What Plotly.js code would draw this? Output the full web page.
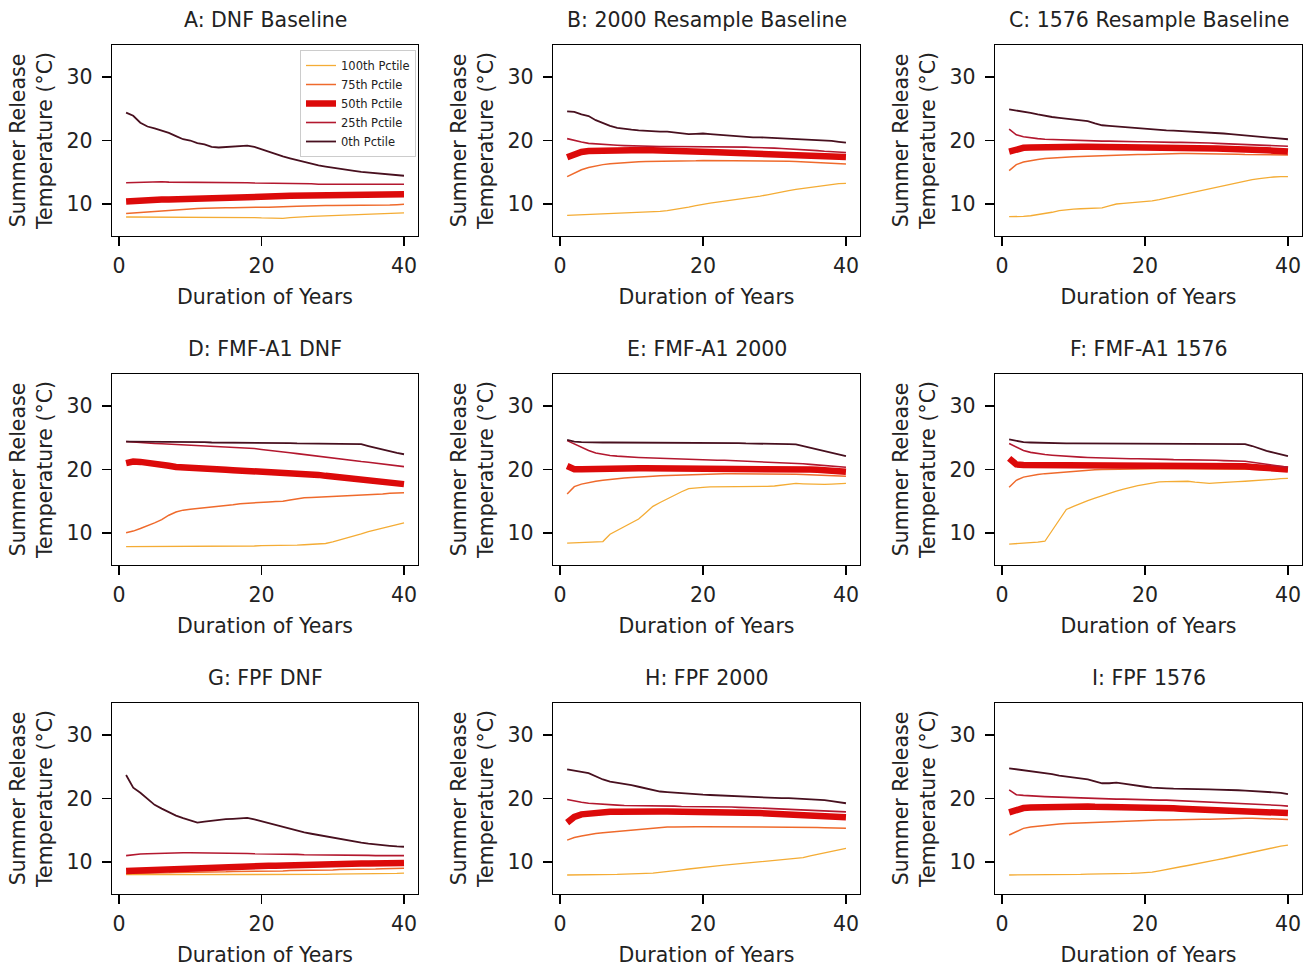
<!DOCTYPE html>
<html>
<head>
<meta charset="utf-8">
<script src="https://cdn.plot.ly/plotly-3.0.1.min.js"></script>
<style>html,body{margin:0;padding:0;background:#fff;}#chart{width:1308px;height:968px;}</style>
</head>
<body>
<div id="chart"></div>
<script>
// ---------- data ----------
const years = Array.from({length: 40}, (_, i) => i + 1);
const seriesNames = ["100th Pctile", "75th Pctile", "50th Pctile", "25th Pctile", "0th Pctile"];
const panelTitles = ["A: DNF Baseline", "B: 2000 Resample Baseline", "C: 1576 Resample Baseline",
                     "D: FMF-A1 DNF", "E: FMF-A1 2000", "F: FMF-A1 1576",
                     "G: FPF DNF", "H: FPF 2000", "I: FPF 1576"];
const xTickVals = [0, 20, 40];
const yTickVals = [10, 20, 30];

// Panel A
const A_p100 = [7.95,7.95,7.95,7.95,7.95,7.95,7.95,7.95,7.95,7.95,7.95,7.95,7.95,7.95,7.95,7.9,7.9,7.9,7.85,7.8,7.75,7.7,7.75,7.85,7.95,8.0,8.05,8.1,8.15,8.2,8.25,8.3,8.35,8.4,8.45,8.5,8.5,8.55,8.55,8.6];
const A_p75 = [8.5,8.55,8.6,8.7,8.8,8.9,9.0,9.1,9.2,9.3,9.3,9.35,9.4,9.4,9.4,9.4,9.45,9.45,9.5,9.5,9.5,9.5,9.55,9.6,9.65,9.7,9.7,9.75,9.75,9.75,9.75,9.75,9.8,9.8,9.8,9.8,9.85,9.85,9.9,9.95];
const A_p50 = [10.4,10.5,10.55,10.6,10.65,10.7,10.7,10.75,10.8,10.8,10.85,10.9,10.95,11.0,11.0,11.05,11.1,11.1,11.15,11.2,11.2,11.25,11.25,11.3,11.3,11.3,11.35,11.35,11.35,11.4,11.4,11.45,11.45,11.5,11.5,11.5,11.5,11.5,11.5,11.55];
const A_p25 = [13.35,13.4,13.45,13.5,13.5,13.5,13.45,13.45,13.4,13.4,13.4,13.4,13.4,13.35,13.35,13.35,13.35,13.35,13.3,13.3,13.3,13.3,13.3,13.3,13.3,13.25,13.2,13.1,13.1,13.1,13.1,13.15,13.15,13.15,13.15,13.15,13.15,13.1,13.1,13.1];
const A_p0 = [24.4,23.9,22.8,22.2,21.9,21.6,21.2,20.7,20.2,20.0,19.6,19.4,19.0,18.9,19.0,19.1,19.2,19.2,19.0,18.6,18.2,17.8,17.5,17.2,16.9,16.6,16.3,16.1,15.9,15.7,15.55,15.4,15.2,15.05,14.95,14.85,14.8,14.7,14.55,14.45];

// Panel B
const B_p100 = [8.2,8.25,8.3,8.35,8.4,8.4,8.45,8.5,8.5,8.55,8.6,8.65,8.75,8.85,8.95,9.1,9.3,9.5,9.75,10.0,10.15,10.3,10.45,10.55,10.7,10.85,11.05,11.25,11.45,11.7,11.9,12.1,12.3,12.45,12.65,12.8,12.95,13.1,13.2,13.25];
const B_p75 = [14.3,14.9,15.4,15.75,16.0,16.2,16.35,16.45,16.55,16.6,16.65,16.7,16.7,16.75,16.75,16.8,16.8,16.8,16.8,16.85,16.85,16.85,16.85,16.85,16.85,16.85,16.85,16.8,16.8,16.8,16.8,16.75,16.7,16.65,16.6,16.55,16.5,16.45,16.4,16.3];
const B_p50 = [17.35,17.9,18.2,18.35,18.4,18.45,18.5,18.5,18.5,18.5,18.5,18.5,18.45,18.45,18.4,18.4,18.35,18.3,18.25,18.2,18.2,18.15,18.1,18.1,18.05,18.0,18.0,17.95,17.95,17.9,17.85,17.8,17.75,17.7,17.65,17.6,17.55,17.5,17.45,17.4];
const B_p25 = [20.3,20.0,19.75,19.55,19.45,19.35,19.3,19.25,19.2,19.15,19.1,19.1,19.1,19.05,19.05,19.05,19.0,19.0,19.0,19.0,19.0,19.0,19.0,19.0,18.95,18.95,18.9,18.9,18.85,18.8,18.75,18.7,18.6,18.55,18.45,18.4,18.3,18.25,18.15,18.1];
const B_p0 = [24.6,24.5,24.1,23.85,23.2,22.7,22.3,22.0,21.8,21.7,21.6,21.5,21.5,21.4,21.4,21.3,21.1,21.0,21.05,21.1,21.0,20.9,20.8,20.7,20.65,20.6,20.5,20.5,20.45,20.4,20.35,20.3,20.3,20.2,20.2,20.1,20.05,19.95,19.8,19.65];

// Panel C
const C_p100 = [8.0,8.0,8.05,8.15,8.3,8.5,8.7,8.95,9.1,9.2,9.25,9.3,9.3,9.4,9.7,10.0,10.1,10.2,10.3,10.35,10.5,10.7,10.95,11.2,11.45,11.7,11.95,12.2,12.45,12.7,12.95,13.2,13.45,13.65,13.85,14.0,14.15,14.25,14.3,14.3];
const C_p75 = [15.25,16.2,16.6,16.85,17.0,17.15,17.25,17.35,17.4,17.45,17.5,17.55,17.6,17.65,17.7,17.7,17.75,17.75,17.8,17.8,17.85,17.85,17.9,17.9,17.95,17.95,17.95,17.95,17.9,17.9,17.9,17.85,17.85,17.8,17.8,17.75,17.75,17.7,17.7,17.7];
const C_p50 = [18.25,18.6,18.85,18.9,18.95,19.0,19.0,19.0,19.0,19.0,19.0,19.0,19.0,19.0,19.0,19.0,19.0,19.0,19.0,19.0,18.95,18.95,18.95,18.9,18.9,18.9,18.85,18.85,18.8,18.75,18.7,18.7,18.65,18.6,18.55,18.5,18.45,18.4,18.35,18.25];
const C_p25 = [21.8,20.9,20.6,20.4,20.3,20.2,20.15,20.1,20.05,20.0,20.0,19.95,19.95,19.9,19.9,19.85,19.85,19.8,19.8,19.8,19.75,19.75,19.75,19.7,19.7,19.7,19.65,19.6,19.6,19.55,19.5,19.5,19.45,19.4,19.35,19.3,19.25,19.2,19.15,19.1];
const C_p0 = [24.9,24.75,24.55,24.35,24.1,23.85,23.7,23.55,23.4,23.25,23.2,23.05,22.7,22.4,22.3,22.2,22.1,22.0,21.9,21.9,21.8,21.7,21.6,21.55,21.5,21.45,21.4,21.3,21.25,21.2,21.1,21.0,20.9,20.85,20.75,20.6,20.5,20.4,20.3,20.2];

// Panel D
const D_p100 = [7.85,7.85,7.85,7.85,7.85,7.85,7.85,7.85,7.85,7.9,7.9,7.9,7.9,7.9,7.9,7.9,7.95,7.95,7.95,8.0,8.0,8.05,8.05,8.1,8.1,8.15,8.2,8.25,8.35,8.6,8.9,9.15,9.5,9.85,10.2,10.5,10.8,11.1,11.35,11.6];
const D_p75 = [10.05,10.3,10.7,11.1,11.6,12.1,12.8,13.3,13.6,13.75,13.85,14.0,14.1,14.25,14.35,14.45,14.6,14.7,14.8,14.85,14.9,14.95,15.0,15.2,15.4,15.55,15.6,15.65,15.65,15.7,15.75,15.8,15.85,15.95,16.05,16.1,16.15,16.25,16.3,16.35];
const D_p50 = [21.0,21.25,21.2,21.1,20.95,20.8,20.6,20.4,20.3,20.25,20.2,20.15,20.05,20.0,19.95,19.9,19.85,19.8,19.75,19.7,19.65,19.6,19.5,19.45,19.4,19.35,19.25,19.15,19.0,18.9,18.8,18.7,18.6,18.5,18.35,18.2,18.05,17.95,17.85,17.7];
const D_p25 = [24.4,24.3,24.2,24.15,24.1,24.05,24.0,23.95,23.9,23.85,23.8,23.75,23.7,23.65,23.6,23.55,23.5,23.4,23.3,23.15,23.05,22.9,22.8,22.65,22.5,22.35,22.2,22.05,21.9,21.75,21.6,21.5,21.35,21.25,21.15,21.0,20.9,20.75,20.6,20.45];
const D_p0 = [24.4,24.4,24.4,24.35,24.35,24.35,24.3,24.3,24.3,24.3,24.3,24.3,24.25,24.25,24.25,24.25,24.25,24.25,24.25,24.2,24.2,24.2,24.15,24.15,24.1,24.1,24.1,24.05,24.05,24.05,24.0,24.0,24.0,24.0,23.7,23.4,23.1,22.85,22.6,22.4];

// Panel E
const E_p100 = [8.4,8.45,8.5,8.55,8.6,8.65,9.8,10.4,11.0,11.5,12.2,13.2,14.2,14.8,15.4,15.95,16.5,17.0,17.15,17.2,17.25,17.25,17.25,17.3,17.25,17.25,17.3,17.35,17.35,17.4,17.55,17.75,17.8,17.75,17.7,17.65,17.65,17.7,17.75,17.8];
const E_p75 = [16.15,17.3,17.7,17.95,18.15,18.3,18.45,18.55,18.65,18.75,18.85,18.9,18.95,19.0,19.05,19.1,19.15,19.2,19.25,19.3,19.35,19.35,19.35,19.35,19.35,19.35,19.35,19.35,19.35,19.35,19.3,19.3,19.25,19.2,19.15,19.1,19.05,19.0,18.95,18.95];
const E_p50 = [20.55,20.05,20.05,20.1,20.1,20.15,20.15,20.15,20.2,20.2,20.2,20.2,20.2,20.2,20.2,20.2,20.2,20.2,20.2,20.25,20.25,20.25,20.25,20.25,20.25,20.25,20.25,20.25,20.2,20.2,20.2,20.15,20.1,20.05,20.0,19.95,19.85,19.8,19.7,19.65];
const E_p25 = [24.55,24.0,23.5,23.0,22.6,22.35,22.2,22.1,22.0,21.95,21.9,21.85,21.8,21.75,21.7,21.65,21.6,21.55,21.55,21.5,21.5,21.45,21.45,21.4,21.4,21.35,21.3,21.3,21.25,21.2,21.15,21.1,21.0,20.9,20.8,20.7,20.6,20.5,20.45,20.35];
const E_p0 = [24.65,24.4,24.3,24.25,24.25,24.25,24.25,24.25,24.25,24.25,24.25,24.25,24.25,24.25,24.25,24.25,24.25,24.25,24.25,24.25,24.25,24.2,24.2,24.15,24.15,24.1,24.1,24.05,24.05,24.05,24.0,24.0,23.95,23.7,23.4,23.1,22.85,22.6,22.35,22.1];

// Panel F
const F_p100 = [8.25,8.3,8.4,8.45,8.55,8.7,10.3,12.0,13.7,14.2,14.7,15.1,15.5,15.9,16.3,16.6,16.9,17.2,17.45,17.65,17.85,18.05,18.1,18.15,18.2,18.15,18.0,17.85,17.8,17.9,18.0,18.1,18.1,18.15,18.2,18.3,18.35,18.45,18.55,18.6];
const F_p75 = [17.2,18.3,18.8,19.05,19.2,19.35,19.45,19.55,19.65,19.7,19.8,19.85,19.95,20.0,20.0,20.05,20.05,20.1,20.1,20.1,20.1,20.15,20.15,20.15,20.15,20.15,20.15,20.15,20.15,20.15,20.15,20.15,20.15,20.1,20.05,20.0,19.95,19.9,19.85,19.8];
const F_p50 = [21.75,20.8,20.7,20.7,20.7,20.7,20.7,20.7,20.7,20.7,20.7,20.7,20.7,20.7,20.7,20.7,20.7,20.7,20.7,20.7,20.7,20.7,20.7,20.7,20.7,20.7,20.65,20.65,20.65,20.6,20.6,20.6,20.55,20.5,20.4,20.3,20.25,20.15,20.05,20.0];
const F_p25 = [24.1,23.5,23.0,22.7,22.5,22.35,22.25,22.15,22.1,22.0,21.95,21.9,21.85,21.8,21.8,21.75,21.75,21.7,21.7,21.7,21.65,21.6,21.6,21.55,21.55,21.5,21.5,21.45,21.45,21.45,21.4,21.4,21.4,21.3,21.15,21.0,20.85,20.7,20.5,20.35];
const F_p0 = [24.75,24.5,24.3,24.25,24.2,24.15,24.15,24.1,24.1,24.1,24.1,24.1,24.1,24.1,24.1,24.1,24.1,24.1,24.1,24.1,24.1,24.05,24.05,24.05,24.05,24.05,24.05,24.0,24.0,24.0,24.0,24.0,24.0,24.0,23.7,23.3,22.95,22.65,22.35,22.1];

// Panel G
const G_p100 = [8.0,8.0,7.95,7.95,7.95,7.95,7.95,7.95,7.95,7.95,7.95,7.95,7.95,7.95,7.95,7.95,7.95,7.95,7.95,7.95,8.0,8.0,8.0,8.0,8.0,8.05,8.05,8.05,8.05,8.1,8.1,8.1,8.1,8.15,8.15,8.15,8.2,8.2,8.2,8.25];
const G_p75 = [8.2,8.2,8.25,8.25,8.3,8.3,8.3,8.35,8.35,8.35,8.4,8.4,8.4,8.45,8.45,8.5,8.5,8.5,8.55,8.55,8.6,8.6,8.6,8.65,8.65,8.7,8.7,8.7,8.75,8.75,8.8,8.8,8.85,8.85,8.9,8.9,8.95,8.95,9.0,9.0];
const G_p50 = [8.6,8.65,8.7,8.75,8.8,8.85,8.9,8.95,9.0,9.05,9.1,9.15,9.15,9.2,9.2,9.25,9.25,9.3,9.3,9.35,9.4,9.4,9.45,9.45,9.5,9.5,9.55,9.6,9.6,9.65,9.7,9.7,9.75,9.75,9.75,9.8,9.8,9.8,9.8,9.85];
const G_p25 = [11.0,11.15,11.25,11.3,11.35,11.4,11.45,11.45,11.45,11.45,11.45,11.4,11.4,11.4,11.4,11.35,11.35,11.35,11.3,11.3,11.3,11.25,11.25,11.2,11.2,11.15,11.15,11.1,11.1,11.1,11.1,11.05,11.05,11.05,11.05,11.0,11.0,11.0,11.0,11.0];
const G_p0 = [23.7,21.7,20.9,19.9,19.0,18.4,17.8,17.3,16.9,16.5,16.2,16.35,16.5,16.65,16.75,16.8,16.9,16.95,16.7,16.4,16.1,15.8,15.5,15.2,14.9,14.65,14.45,14.25,14.0,13.75,13.55,13.35,13.2,13.05,12.9,12.75,12.65,12.55,12.45,12.4];

// Panel H
const H_p100 = [7.95,7.95,7.95,7.95,8.0,8.0,8.0,8.05,8.1,8.1,8.15,8.2,8.25,8.35,8.45,8.6,8.75,8.9,9.05,9.2,9.3,9.4,9.5,9.6,9.75,9.85,9.95,10.1,10.2,10.3,10.35,10.4,10.5,10.7,10.95,11.2,11.45,11.7,11.95,12.15];
const H_p75 = [13.45,13.85,14.1,14.35,14.5,14.6,14.7,14.8,14.95,15.05,15.2,15.3,15.4,15.45,15.5,15.5,15.55,15.55,15.55,15.55,15.55,15.55,15.55,15.55,15.55,15.55,15.55,15.55,15.55,15.55,15.55,15.55,15.5,15.5,15.45,15.45,15.4,15.35,15.3,15.3];
const H_p50 = [16.2,17.1,17.5,17.65,17.8,17.85,17.9,17.9,17.95,17.95,17.95,17.95,17.95,17.95,17.95,17.95,17.95,17.95,17.9,17.9,17.9,17.85,17.85,17.8,17.8,17.75,17.7,17.7,17.65,17.6,17.55,17.5,17.45,17.4,17.35,17.3,17.2,17.15,17.1,17.05];
const H_p25 = [19.85,19.6,19.4,19.25,19.15,19.05,19.0,18.95,18.9,18.9,18.85,18.85,18.8,18.8,18.8,18.8,18.75,18.75,18.75,18.75,18.7,18.7,18.7,18.65,18.6,18.6,18.55,18.5,18.45,18.4,18.35,18.3,18.25,18.2,18.15,18.1,18.05,18.0,17.95,17.9];
const H_p0 = [24.6,24.45,24.2,24.0,23.5,23.0,22.65,22.5,22.35,22.1,21.85,21.6,21.3,21.1,21.0,20.9,20.85,20.8,20.7,20.6,20.55,20.5,20.4,20.35,20.25,20.2,20.15,20.1,20.1,20.05,20.05,20.05,20.0,19.95,19.85,19.8,19.75,19.6,19.45,19.25];

// Panel I
const I_p100 = [7.95,7.95,7.95,7.95,7.95,8.0,8.0,8.0,8.05,8.05,8.05,8.1,8.1,8.1,8.15,8.15,8.2,8.2,8.25,8.3,8.4,8.6,8.85,9.05,9.25,9.45,9.7,9.95,10.15,10.35,10.55,10.8,11.05,11.3,11.55,11.8,12.05,12.35,12.5,12.65];
const I_p75 = [14.25,14.8,15.3,15.5,15.65,15.8,15.9,16.0,16.05,16.1,16.15,16.2,16.25,16.3,16.35,16.4,16.45,16.5,16.5,16.55,16.55,16.6,16.6,16.65,16.7,16.7,16.7,16.75,16.75,16.8,16.8,16.85,16.85,16.9,16.9,16.85,16.8,16.75,16.7,16.7];
const I_p50 = [17.8,18.2,18.5,18.6,18.65,18.7,18.75,18.75,18.75,18.75,18.75,18.75,18.7,18.7,18.7,18.65,18.65,18.6,18.6,18.55,18.5,18.5,18.45,18.45,18.4,18.35,18.3,18.25,18.2,18.15,18.1,18.05,18.0,17.95,17.9,17.85,17.8,17.75,17.75,17.7];
const I_p25 = [21.35,20.6,20.5,20.4,20.35,20.3,20.25,20.2,20.15,20.1,20.05,20.0,20.0,19.95,19.95,19.9,19.9,19.85,19.85,19.8,19.8,19.75,19.75,19.7,19.65,19.65,19.6,19.55,19.5,19.45,19.4,19.35,19.3,19.25,19.2,19.1,19.05,18.95,18.9,18.8];
const I_p0 = [24.75,24.6,24.5,24.4,24.25,24.05,23.85,23.6,23.45,23.3,23.2,23.0,22.7,22.4,22.4,22.5,22.35,22.15,22.0,21.85,21.7,21.6,21.6,21.55,21.55,21.5,21.5,21.45,21.45,21.4,21.4,21.35,21.3,21.25,21.2,21.15,21.1,21.05,20.9,20.7];

const panels = [
  [A_p100, A_p75, A_p50, A_p25, A_p0],
  [B_p100, B_p75, B_p50, B_p25, B_p0],
  [C_p100, C_p75, C_p50, C_p25, C_p0],
  [D_p100, D_p75, D_p50, D_p25, D_p0],
  [E_p100, E_p75, E_p50, E_p25, E_p0],
  [F_p100, F_p75, F_p50, F_p25, F_p0],
  [G_p100, G_p75, G_p50, G_p25, G_p0],
  [H_p100, H_p75, H_p50, H_p25, H_p0],
  [I_p100, I_p75, I_p50, I_p25, I_p0]
];

// ---------- style ----------
const colors = ["#f4ac35", "#ef6a2c", "#dc0a0a", "#b3182f", "#48101f"];
const widths = [1.3, 1.5, 6.5, 1.6, 1.8];
const FONT = "DejaVu Sans, Verdana, sans-serif";
const FS = 20.5;
const W = 1308, H = 968;
const colPx = [[112.2, 417.9], [553.2, 859.9], [995.2, 1301.9]];
const rowPx = [[45.25, 235.75], [374.25, 564.75], [703.25, 893.75]];

const traces = [];
const layout = {
  width: W, height: H,
  margin: {l: 0, r: 0, t: 0, b: 0},
  paper_bgcolor: "#ffffff", plot_bgcolor: "#ffffff",
  font: {family: FONT, size: FS, color: "#222"},
  showlegend: true,
  legend: {
    x: 300 / W, y: 1 - 50 / H, xanchor: "left", yanchor: "top",
    bgcolor: "rgba(255,255,255,0.85)", bordercolor: "#cccccc", borderwidth: 1,
    font: {family: FONT, size: 11.5, color: "#222"},
    tracegroupgap: 0, itemwidth: 30
  },
  annotations: []
};

panels.forEach((series, p) => {
  const r = Math.floor(p / 3), c = p % 3;
  const suffix = p === 0 ? "" : String(p + 1);
  const xa = "xaxis" + suffix, ya = "yaxis" + suffix;
  series.forEach((vals, s) => {
    traces.push({
      type: "scatter", mode: "lines", x: years, y: vals,
      xaxis: "x" + suffix, yaxis: "y" + suffix,
      name: seriesNames[s], legendgroup: seriesNames[s], showlegend: p === 0,
      line: {color: colors[s], width: widths[s]}
    });
  });
  layout[xa] = {
    domain: [colPx[c][0] / W, colPx[c][1] / W],
    anchor: "y" + suffix, range: [-0.95, 41.95],
    tickvals: xTickVals, ticks: "outside", ticklen: 9, tickwidth: 1.5, tickcolor: "#000",
    ticklabelstandoff: 2,
    showline: true, mirror: true, linecolor: "#000", linewidth: 1.5,
    showgrid: false, zeroline: false,
    tickfont: {family: FONT, size: FS, color: "#222"},
    title: {text: "Duration of Years", font: {family: FONT, size: FS, color: "#222"}, standoff: 13}
  };
  layout[ya] = {
    domain: [1 - rowPx[r][1] / H, 1 - rowPx[r][0] / H],
    anchor: "x" + suffix, range: [5, 35],
    tickvals: yTickVals, ticks: "outside", ticklen: 9, tickwidth: 1.5, tickcolor: "#000",
    ticklabelstandoff: 5,
    showline: true, mirror: true, linecolor: "#000", linewidth: 1.5,
    showgrid: false, zeroline: false,
    tickfont: {family: FONT, size: FS, color: "#222"},
    title: {text: "Summer Release<br>Temperature (°C)", font: {family: FONT, size: FS, color: "#222"}, standoff: 8}
  };
  layout.annotations.push({
    text: panelTitles[p], xref: "paper", yref: "paper",
    x: (colPx[c][0] + colPx[c][1]) / 2 / W, y: 1 - rowPx[r][0] / H,
    xanchor: "center", yanchor: "bottom", yshift: 11, showarrow: false,
    font: {family: FONT, size: FS, color: "#222"}
  });
});

Plotly.newPlot("chart", traces, layout, {displayModeBar: false, staticPlot: true});
</script>
</body>
</html>
